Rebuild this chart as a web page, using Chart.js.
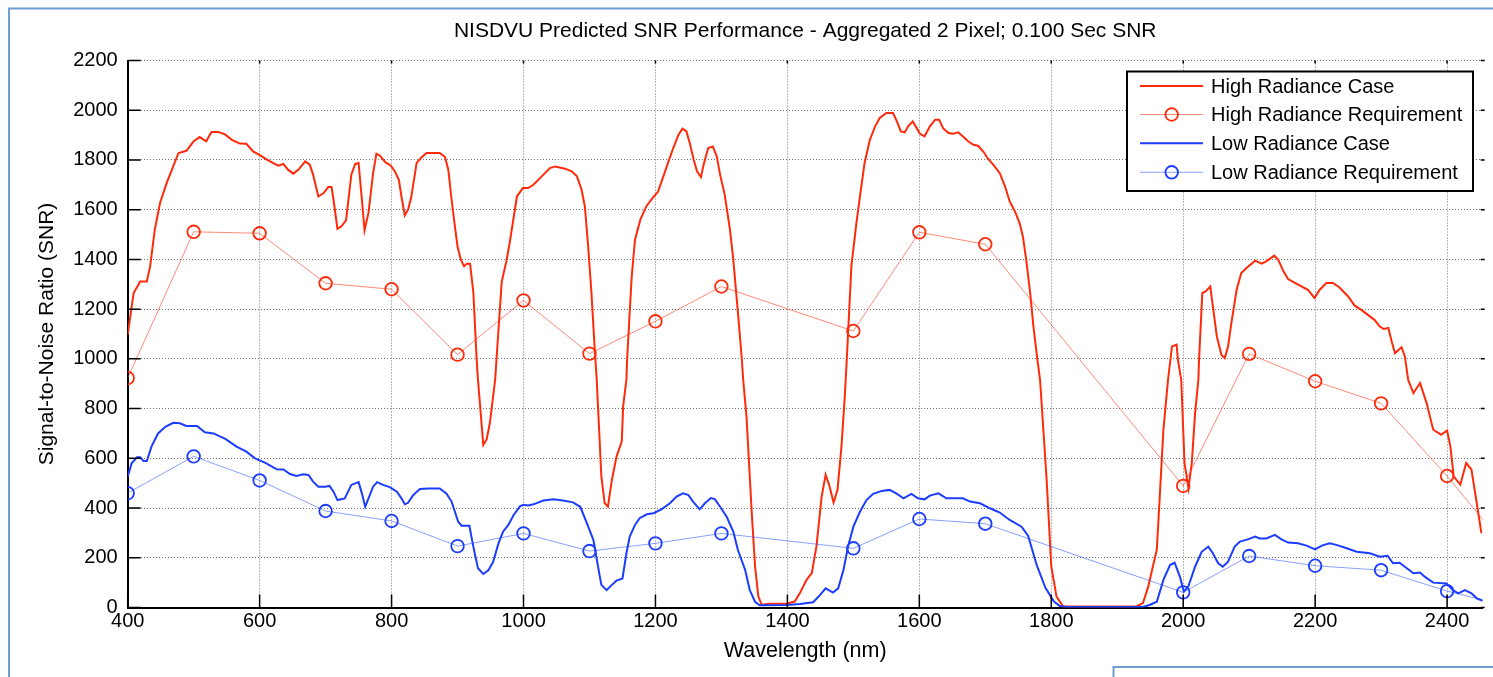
<!DOCTYPE html>
<html>
<head>
<meta charset="utf-8">
<script src="https://cdn.jsdelivr.net/npm/chart.js@4.4.1/dist/chart.umd.min.js"></script>
<style>
html,body{margin:0;padding:0;background:#fff;overflow:hidden}
canvas{display:block}
</style>
</head>
<body>
<canvas id="c" width="1493" height="677"></canvas>
<script>
// ---------------- DATA ----------------
const titleText = "NISDVU Predicted SNR Performance - Aggregated 2 Pixel; 0.100 Sec SNR";
const xTitle = "Wavelength (nm)";
const yTitle = "Signal-to-Noise Ratio (SNR)";
const seriesNames = ["High Radiance Case", "High Radiance Requirement", "Low Radiance Case", "Low Radiance Requirement"];

const xTicks = [400, 600, 800, 1000, 1200, 1400, 1600, 1800, 2000, 2200, 2400];
const yTicks = [0, 200, 400, 600, 800, 1000, 1200, 1400, 1600, 1800, 2000, 2200];
const xRange = [400, 2454];
const yRange = [0, 2200];

const highWl = [400,409,419,429,434,441,449,459,477,489,500,509,519,527,537,547,558,570,580,590,601,611,628,636,643,651,659,669,676,681,689,697,704,709,712,718,724,731,739,745,750,755,759,765,772,777,782,790,799,805,811,815,820,825,830,838,846,853,873,881,886,891,896,900,905,910,914,919,924,929,931,939,944,949,957,959,967,974,979,990,999,1007,1015,1025,1040,1048,1063,1073,1081,1088,1093,1098,1103,1108,1111,1118,1123,1128,1134,1141,1149,1151,1156,1157,1164,1169,1177,1186,1197,1204,1212,1219,1227,1235,1241,1247,1252,1258,1263,1269,1273,1280,1287,1293,1298,1305,1313,1318,1326,1331,1333,1338,1346,1351,1356,1361,1373,1399,1411,1419,1429,1437,1444,1452,1458,1464,1470,1476,1482,1487,1490,1497,1504,1510,1517,1525,1533,1540,1550,1560,1566,1572,1578,1583,1590,1596,1601,1608,1616,1624,1630,1636,1644,1651,1659,1667,1674,1682,1689,1697,1704,1712,1722,1730,1737,1745,1752,1757,1762,1768,1773,1779,1783,1793,1800,1808,1818,1929,1939,1947,1954,1960,1965,1970,1977,1983,1990,1992,1997,2002,2008,2013,2018,2023,2024,2029,2034,2041,2045,2051,2058,2063,2068,2073,2081,2088,2096,2109,2119,2126,2138,2144,2152,2159,2172,2189,2199,2207,2217,2227,2237,2250,2260,2270,2280,2290,2298,2304,2311,2316,2321,2331,2336,2341,2349,2359,2369,2379,2391,2400,2405,2410,2420,2429,2437,2445,2452];
const highSnr = [1097,1265,1311,1311,1372,1519,1627,1707,1828,1837,1875,1892,1875,1912,1912,1904,1881,1866,1865,1834,1818,1801,1777,1784,1761,1745,1761,1794,1781,1741,1653,1667,1691,1691,1640,1523,1533,1557,1741,1784,1788,1640,1517,1587,1747,1825,1818,1792,1777,1754,1720,1653,1577,1600,1653,1788,1812,1828,1828,1812,1761,1640,1533,1452,1399,1372,1383,1383,1265,996,916,654,675,742,916,996,1311,1392,1466,1653,1687,1687,1700,1727,1767,1774,1765,1754,1734,1680,1613,1452,1265,1037,916,527,420,406,514,607,668,809,916,996,1331,1479,1559,1613,1651,1673,1734,1788,1848,1902,1926,1915,1868,1801,1754,1731,1781,1848,1854,1814,1741,1660,1519,1399,1157,996,916,768,380,165,44,11,15,15,24,58,111,138,245,447,534,487,422,473,648,849,996,1372,1533,1653,1788,1881,1935,1969,1989,1989,1955,1915,1911,1935,1955,1928,1905,1895,1935,1962,1962,1928,1908,1905,1911,1892,1875,1861,1857,1834,1805,1781,1747,1693,1633,1593,1546,1492,1399,1265,1130,996,916,514,165,44,4,4,18,84,165,232,473,715,916,1050,1057,996,916,581,480,581,782,916,996,1265,1271,1291,1211,1090,1016,1003,1050,1144,1278,1345,1365,1395,1383,1392,1415,1399,1352,1321,1302,1278,1245,1278,1305,1305,1287,1251,1214,1197,1177,1157,1130,1120,1124,1070,1023,1047,1010,916,862,903,822,715,695,712,648,527,494,581,554,420,299];

const lowWl = [400,406,414,419,424,429,436,446,457,469,479,489,505,517,530,548,565,580,593,608,626,636,646,656,666,674,681,689,699,706,712,718,729,739,750,755,760,765,772,778,787,798,808,815,820,825,833,843,856,873,883,891,896,901,906,918,921,926,931,939,947,954,962,969,977,985,995,1000,1007,1015,1030,1045,1060,1075,1086,1096,1106,1113,1118,1126,1134,1141,1150,1156,1161,1169,1176,1187,1197,1209,1222,1232,1242,1250,1257,1267,1275,1284,1290,1298,1308,1318,1325,1336,1343,1351,1358,1399,1419,1439,1447,1458,1469,1477,1485,1492,1500,1510,1520,1530,1543,1555,1565,1576,1588,1598,1608,1616,1629,1641,1666,1677,1692,1707,1722,1737,1755,1765,1778,1791,1804,1813,1823,1939,1949,1960,1970,1980,1987,1995,2001,2008,2018,2028,2038,2045,2053,2060,2068,2078,2086,2098,2109,2116,2126,2139,2149,2159,2174,2187,2200,2210,2222,2232,2248,2263,2283,2298,2310,2318,2328,2336,2349,2359,2366,2379,2399,2409,2417,2427,2437,2445,2454];
const lowSnr = [526,580,604,604,589,589,647,700,727,743,741,730,730,705,700,678,647,627,600,583,556,555,537,529,536,533,506,486,486,489,466,432,439,493,504,459,405,439,486,504,493,483,466,439,415,421,453,477,479,479,459,426,385,345,329,329,285,218,158,135,151,184,258,305,332,372,408,413,410,415,430,435,430,423,405,339,271,164,91,70,91,108,117,218,285,332,359,375,379,395,419,446,459,452,426,395,419,440,436,405,365,305,231,151,70,23,9,10,14,21,43,77,60,77,151,245,325,385,432,457,469,473,459,439,457,439,435,450,459,439,439,426,419,399,382,352,325,288,170,80,24,6,2,2,10,23,111,171,180,124,64,86,164,224,245,218,178,164,184,245,265,274,285,278,278,292,274,261,258,249,234,249,258,252,238,224,218,204,208,178,180,164,138,141,124,100,97,70,57,70,57,37,27];

const reqWl   = [400, 500, 600, 700, 800, 900, 1000, 1100, 1200, 1300, 1500, 1600, 1700, 2000, 2100, 2200, 2300, 2400, 2500];
const highReq = [923, 1511, 1505, 1304, 1280, 1017, 1235, 1021, 1151, 1291, 1112, 1509, 1461, 489, 1020, 910, 821, 529, 205];
const lowReq  = [460, 608, 511, 388, 348, 247, 298, 227, 258, 298, 238, 356, 337, 61, 207, 168, 150, 66, 0];

// ---------------- STYLE ----------------
const RED = '#ff2a0a';
const RED_LIGHT = 'rgba(255,60,30,0.6)';
const BLUE = '#1c3cff';
const BLUE_LIGHT = 'rgba(40,80,255,0.55)';
const FONT = '"Liberation Sans", Arial, Helvetica, sans-serif';

Chart.defaults.font.family = FONT;
Chart.defaults.color = '#000';

const toPts = (xs, ys) => xs.map((x, i) => ({x: x, y: ys[i]}));

const styles = [
  {color: RED, lineColor: RED, width: 2, marker: false},
  {color: RED, lineColor: RED_LIGHT, width: 1, marker: true},
  {color: BLUE, lineColor: BLUE, width: 2, marker: false},
  {color: BLUE, lineColor: BLUE_LIGHT, width: 1, marker: true}
];

const matlabDecor = {
  id: 'matlabDecor',
  beforeDraw(chart) {
    const ctx = chart.ctx;
    ctx.save();
    ctx.fillStyle = '#fff';
    ctx.fillRect(0, 0, chart.width, chart.height);
    ctx.restore();
  },
  afterDatasetsDraw(chart) {
    const {ctx, chartArea: {left, right, top, bottom}, scales: {x, y}} = chart;
    ctx.save();
    ctx.strokeStyle = '#000';
    ctx.lineWidth = 1.5;
    ctx.beginPath();
    xTicks.forEach(v => {
      const px = x.getPixelForValue(v);
      ctx.moveTo(px, bottom); ctx.lineTo(px, bottom - 13);
      ctx.moveTo(px, top); ctx.lineTo(px, top + 3);
    });
    yTicks.forEach(v => {
      const py = y.getPixelForValue(v);
      ctx.moveTo(left, py); ctx.lineTo(left + 13, py);
      ctx.moveTo(right - 2, py); ctx.lineTo(right + 2, py);
    });
    ctx.stroke();
    ctx.restore();
  },
  afterDraw(chart) {
    const ctx = chart.ctx;
    // Legend box
    const bx = 1127, by = 71.5, bw = 346, bh = 119.5;
    ctx.save();
    ctx.fillStyle = '#fff';
    ctx.fillRect(bx, by, bw, bh);
    ctx.strokeStyle = '#000';
    ctx.lineWidth = 2;
    ctx.strokeRect(bx, by, bw, bh);
    const rows = [86, 114.5, 143.3, 172.3];
    ctx.font = '20px ' + FONT;
    ctx.textBaseline = 'middle';
    ctx.textAlign = 'left';
    chart.data.datasets.forEach((ds, i) => {
      const st = styles[i];
      const yy = rows[i];
      ctx.strokeStyle = st.lineColor;
      ctx.lineWidth = st.width;
      ctx.beginPath();
      ctx.moveTo(1140, yy); ctx.lineTo(1203, yy);
      ctx.stroke();
      if (st.marker) {
        ctx.strokeStyle = st.color;
        ctx.lineWidth = 1.8;
        ctx.beginPath();
        ctx.arc(1171.7, yy, 6.3, 0, Math.PI * 2);
        ctx.stroke();
      }
      ctx.fillStyle = '#000';
      ctx.fillText(ds.label, 1211, yy + 1);
    });
    // Document frame lines (light blue)
    ctx.strokeStyle = '#6f9dd3';
    ctx.lineWidth = 2;
    ctx.beginPath();
    ctx.moveTo(9, 677); ctx.lineTo(9, 8.5); ctx.lineTo(1493, 8.5);
    ctx.moveTo(1113.5, 677); ctx.lineTo(1113.5, 667); ctx.lineTo(1493, 667);
    ctx.stroke();
    ctx.restore();
  }
};

const datasets = [
  {label: seriesNames[0], data: toPts(highWl, highSnr), order: 4},
  {label: seriesNames[1], data: toPts(reqWl, highReq), order: 3},
  {label: seriesNames[2], data: toPts(lowWl, lowSnr), order: 2},
  {label: seriesNames[3], data: toPts(reqWl, lowReq), order: 1}
].map((ds, i) => {
  const st = styles[i];
  return Object.assign(ds, {
    borderColor: st.lineColor,
    borderWidth: st.width,
    backgroundColor: 'rgba(0,0,0,0)',
    fill: false,
    tension: 0,
    pointRadius: st.marker ? 6.3 : 0,
    pointHoverRadius: st.marker ? 6.3 : 0,
    pointBorderColor: st.color,
    pointBackgroundColor: 'rgba(0,0,0,0)',
    pointBorderWidth: 1.8,
    pointStyle: 'circle'
  });
});

const gridStyle = {color: 'rgba(0,0,0,0.55)', lineWidth: 1, drawTicks: false};

new Chart(document.getElementById('c'), {
  type: 'line',
  data: {datasets: datasets},
  options: {
    responsive: false,
    animation: false,
    devicePixelRatio: 1,
    layout: {padding: {left: 0, top: 0, right: 10.3, bottom: 0}},
    plugins: {
      legend: {display: false},
      tooltip: {enabled: false},
      title: {
        display: true,
        text: titleText,
        fullSize: false,
        color: '#000',
        font: {size: 21, weight: 'normal', family: FONT},
        padding: {top: 19, bottom: 16.3}
      }
    },
    scales: {
      x: {
        type: 'linear',
        min: xRange[0],
        max: xRange[1],
        grid: gridStyle,
        border: {display: true, color: '#000', width: 2, dash: [1, 2]},
        afterBuildTicks: s => { s.ticks = xTicks.map(v => ({value: v})); },
        afterFit: s => { s.height = 69.5; },
        ticks: {
          autoSkip: false, maxRotation: 0, padding: 1.5,
          color: '#000', font: {size: 20, family: FONT},
          callback: v => String(v)
        },
        title: {display: true, text: xTitle, color: '#000',
                font: {size: 21.5, family: FONT}, padding: {top: 0, bottom: 13}}
      },
      y: {
        type: 'linear',
        min: yRange[0],
        max: yRange[1],
        grid: gridStyle,
        border: {display: true, color: '#000', width: 2, dash: [1, 2]},
        afterBuildTicks: s => { s.ticks = yTicks.map(v => ({value: v})); },
        afterFit: s => { s.width = 127.7; },
        ticks: {
          autoSkip: false, padding: 10,
          color: '#000', font: {size: 20, family: FONT},
          callback: v => String(v)
        },
        title: {display: true, text: yTitle, color: '#000',
                font: {size: 21, family: FONT}, padding: {top: 35, bottom: 0}}
      }
    }
  },
  plugins: [matlabDecor]
});
</script>
</body>
</html>
